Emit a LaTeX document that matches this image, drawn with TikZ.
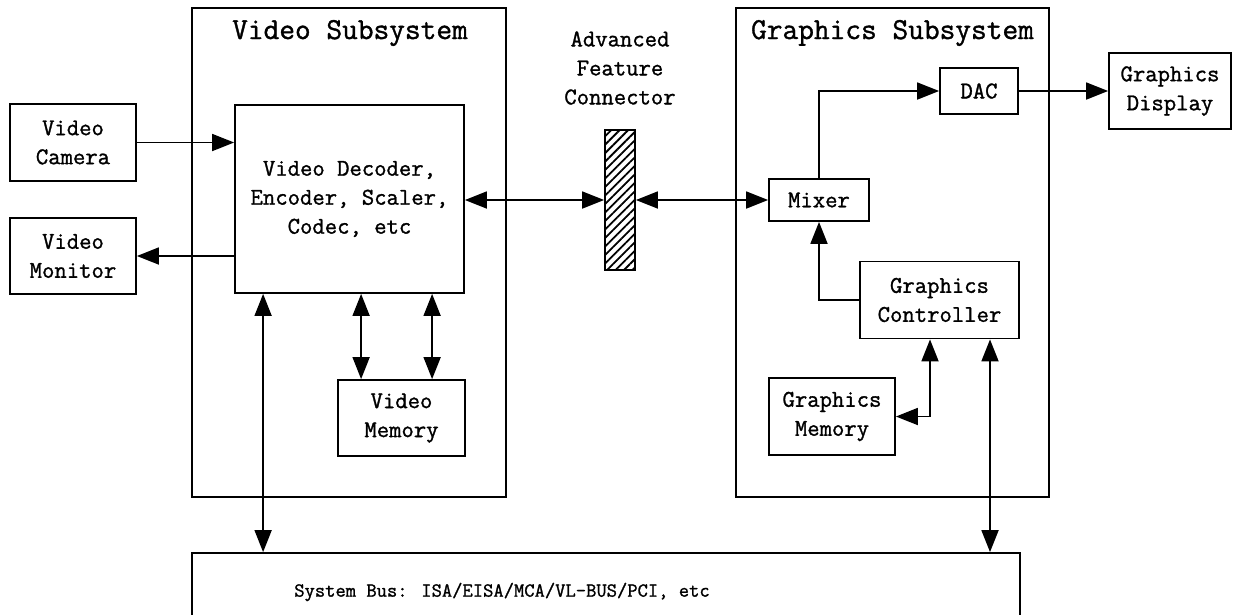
\documentclass[tikz,border=0pt]{standalone}
\usepackage{fontspec}
\usetikzlibrary{arrows.meta,calc,patterns.meta}

% heavier typewriter face for all labels
\newfontfamily\labelfont[FakeBold=1.2]{Latin Modern Mono}

\tikzset{
  blk/.style={draw, line width=1.8pt, inner sep=0pt, align=center,
    font=\labelfont\fontsize{24}{29}\selectfont},
  title/.style={inner sep=0pt, align=center, font=\labelfont\fontsize{30.5}{36}\selectfont},
  conn/.style={line width=1.8pt, -{Triangle[length=22pt,width=17pt]}},
  biconn/.style={line width=1.8pt, {Triangle[length=22pt,width=17pt]}-{Triangle[length=22pt,width=17pt]}},
}

\begin{document}
\begin{tikzpicture}[x=1pt,y=-1pt]
  \useasboundingbox (0,0) rectangle (1233,614);
  \clip (0,0) rectangle (1233,614);

  % subsystem frames
  \node[blk, minimum width=314pt, minimum height=489pt] (vsub) at (349,252.5) {};
  \node[blk, minimum width=313pt, minimum height=489pt] (gsub) at (892.5,252.5) {};
  \node[title] (vtitle) at (350,33) {Video Subsystem};
  \node[title] (gtitle) at (892.5,33) {Graphics Subsystem};

  % video side
  \node[blk, minimum width=126pt, minimum height=77pt] (cam) at (73,142.5) {Video\\Camera};
  \node[blk, minimum width=126pt, minimum height=76pt] (mon) at (73,256) {Video\\Monitor};
  \node[blk, minimum width=229pt, minimum height=188pt] (dec) at (349.5,199)
    {Video Decoder,\\Encoder, Scaler,\\Codec, etc};
  \node[blk, minimum width=127pt, minimum height=76pt] (vmem) at (401.5,418) {Video\\Memory};

  % feature connector
  \node[draw, line width=1.8pt, minimum width=30pt, minimum height=140pt, inner sep=0pt,
    pattern={Lines[angle=45,distance=6pt,line width=1.8pt]}] (afc) at (620,200) {};
  \node[blk, draw=none] (afclabel) at (620,68) {Advanced\\Feature\\Connector};

  % graphics side
  \node[blk, minimum width=100pt, minimum height=42pt] (mixer) at (819,200) {Mixer};
  \node[blk, minimum width=78pt, minimum height=46pt] (dac) at (979,91) {DAC};
  \node[blk, minimum width=122pt, minimum height=76pt] (gdisp) at (1170,91) {Graphics\\Display};
  \node[blk, minimum width=159pt, minimum height=77pt] (gctl) at (939.5,300) {Graphics\\Controller};
  \node[blk, minimum width=126pt, minimum height=77pt] (gmem) at (832,416.5) {Graphics\\Memory};

  % system bus (bottom edge runs off the page)
  \node[blk, minimum width=828pt, minimum height=81pt] (bus) at (606,593.5) {};
  \node[title, font=\labelfont\fontsize{20}{24}\selectfont] (bustext) at (502,592)
    {System Bus: ISA/EISA/MCA/VL-BUS/PCI, etc};

  % connectors
  \draw[conn] (cam.east) -- (cam.east -| dec.west);
  \draw[conn] (mon.east -| dec.west) -- (mon.east);
  \draw[biconn] (afc.west -| dec.east) -- (afc.west);
  \draw[biconn] (afc.east) -- (mixer.west);
  \draw[conn] (mixer.north) |- (dac.west);
  \draw[conn] (dac.east) -- (dac.east -| gdisp.west);
  \draw[conn] (gctl.west) -| (mixer.south);

  \coordinate (m1) at ($(vmem.north west)+(24,0)$);
  \coordinate (m2) at ($(vmem.north west)+(95,0)$);
  \draw[biconn] (m1 |- dec.south) -- (m1);
  \draw[biconn] (m2 |- dec.south) -- (m2);
  \coordinate (b1) at ($(dec.south west)+(29,0)$);
  \draw[biconn] (b1) -- (b1 |- bus.north);

  \coordinate (c1) at ($(gctl.south)+(-9.5,0)$);
  \coordinate (c2) at ($(gctl.south)+(50.5,0)$);
  \draw[biconn] (c1) |- (gmem.east);
  \draw[biconn] (c2) -- (c2 |- bus.north);
\end{tikzpicture}
\end{document}
